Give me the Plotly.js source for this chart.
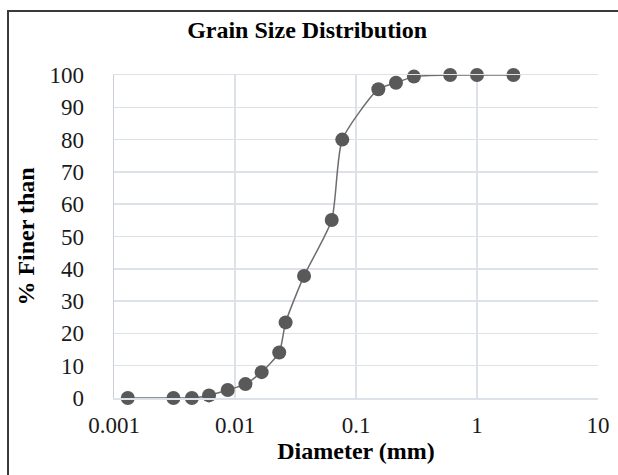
<!DOCTYPE html>
<html>
<head>
<meta charset="utf-8">
<script src="https://cdn.plot.ly/plotly-3.0.1.min.js"></script>
<style>html,body{margin:0;padding:0;background:#fff;}#chart{width:618px;height:475px;}</style>
</head>
<body>
<div id="chart"></div>
<script>
const diameterMm = [0.0013, 0.0031, 0.0044, 0.0061, 0.0087, 0.0122, 0.0166, 0.0232, 0.0262, 0.0372, 0.063, 0.077, 0.153, 0.214, 0.301, 0.6, 1.0, 2.0];
const percentFiner = [0, 0, 0, 0.8, 2.5, 4.3, 8, 14.1, 23.4, 37.8, 55.1, 80, 95.6, 97.6, 99.5, 100, 100, 100];
const xTickVals = [0.001, 0.01, 0.1, 1, 10];
const xTickText = ['0.001', '0.01', '0.1', '1', '10'];

const serif = '"Liberation Serif", "Times New Roman", serif';
const gridCol = '#dde1e8';

const trace = {
  x: diameterMm, y: percentFiner, type: 'scatter', mode: 'lines+markers',
  line: {color: '#6e6e6e', width: 1.5, shape: 'spline', smoothing: 0.6},
  marker: {color: '#595959', size: 14},
  cliponaxis: false, hoverinfo: 'skip'
};

const layout = {
  width: 618, height: 475,
  margin: {l: 114, r: 20, t: 75, b: 77},
  paper_bgcolor: '#ffffff', plot_bgcolor: '#ffffff',
  showlegend: false,
  title: {text: '<b>Grain Size Distribution</b>', font: {family: serif, size: 24, color: '#000000'},
          x: 0.497, xanchor: 'center', xref: 'container', y: 0.937, yanchor: 'middle', yref: 'container'},
  xaxis: {
    type: 'log', range: [-3, 1], tickvals: xTickVals, ticktext: xTickText,
    showgrid: true, gridcolor: gridCol, gridwidth: 1.5,
    showline: true, linecolor: gridCol, linewidth: 1.5, mirror: true, zeroline: false,
    ticks: '', ticklabelstandoff: 6,
    tickfont: {family: serif, size: 23, color: '#1a1a1a'},
    title: {text: '<b>Diameter (mm)</b>', font: {family: serif, size: 24, color: '#000000'}, standoff: 5}
  },
  yaxis: {
    range: [0, 100], dtick: 10, tick0: 0,
    showgrid: true, gridcolor: gridCol, gridwidth: 1.5,
    showline: true, linecolor: '#c9cfd9', linewidth: 1.5, mirror: false, zeroline: false,
    ticks: '', ticklabelstandoff: 24,
    tickfont: {family: serif, size: 23, color: '#1a1a1a'},
    title: {text: '<b>% Finer than</b>', font: {family: serif, size: 24, color: '#000000'}, standoff: 8}
  },
  shapes: [{
    type: 'path', xref: 'paper', yref: 'paper',
    path: 'M -0.219,-0.3 L -0.219,1.198 L 1.2,1.198',
    line: {color: '#3a3a3a', width: 2}, layer: 'below'
  }]
};

Plotly.newPlot('chart', [trace], layout, {staticPlot: true, displayModeBar: false});
</script>
</body>
</html>
